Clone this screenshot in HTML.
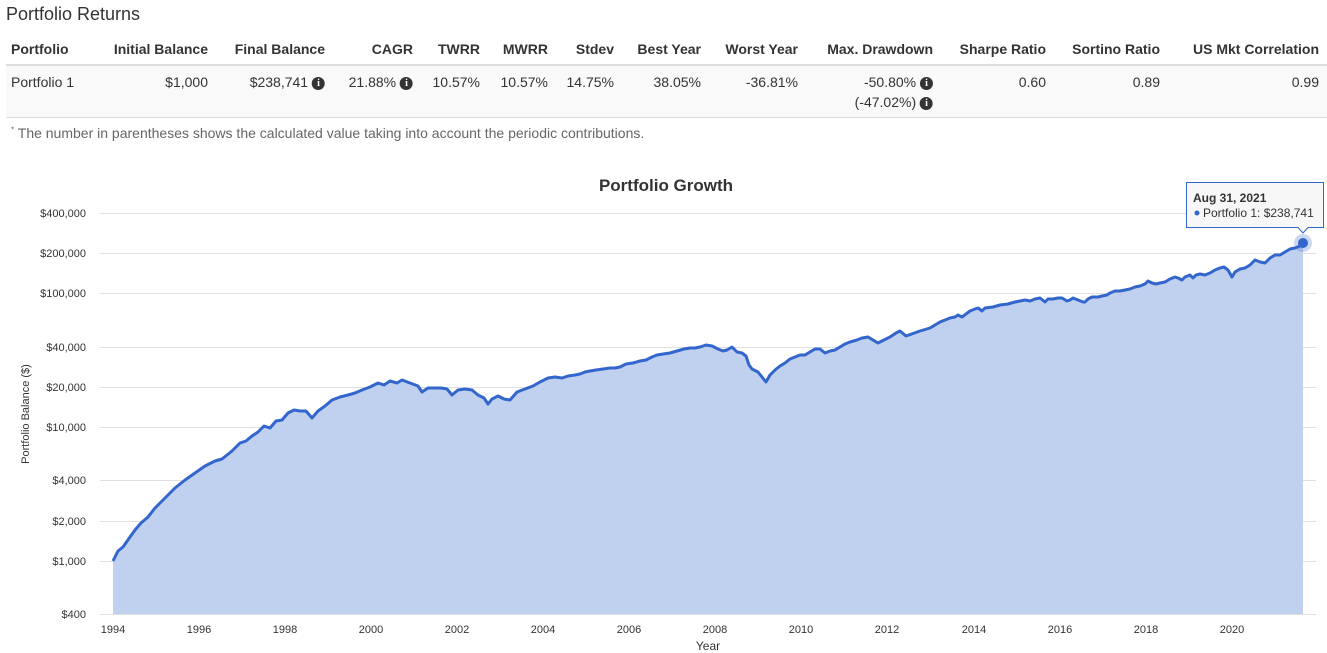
<!DOCTYPE html>
<html><head><meta charset="utf-8"><style>
body{margin:0;width:1327px;height:653px;background:#fff;font-family:"Liberation Sans",Arial,sans-serif;color:#333;position:relative;overflow:hidden}
.a{position:absolute;white-space:nowrap}
.h{font-weight:bold;font-size:14px;top:41px}
.d{font-size:14px;top:74px}
.r{transform:translateX(-100%)}
.i{display:inline-block;width:13px;height:13px;border-radius:50%;background:#333;color:#fff;font-size:10px;font-weight:bold;text-align:center;line-height:13px;vertical-align:1px;font-family:"Liberation Serif",serif}
</style></head><body>
<div class="a" style="left:6px;top:4px;font-size:18px">Portfolio Returns</div>
<div class="a" style="left:6px;top:64px;width:1321px;height:2px;background:#ddd"></div>
<div class="a" style="left:6px;top:66px;width:1321px;height:51px;background:#f9f9f9;border-bottom:1px solid #ddd"></div>
<div class="a h" style="left:11px">Portfolio</div>
<div class="a h r" style="left:208px">Initial Balance</div>
<div class="a h r" style="left:325px">Final Balance</div>
<div class="a h r" style="left:413px">CAGR</div>
<div class="a h r" style="left:480px">TWRR</div>
<div class="a h r" style="left:548px">MWRR</div>
<div class="a h r" style="left:614px">Stdev</div>
<div class="a h r" style="left:701px">Best Year</div>
<div class="a h r" style="left:798px">Worst Year</div>
<div class="a h r" style="left:933px">Max. Drawdown</div>
<div class="a h r" style="left:1046px">Sharpe Ratio</div>
<div class="a h r" style="left:1160px">Sortino Ratio</div>
<div class="a h r" style="left:1319px">US Mkt Correlation</div>
<div class="a d" style="left:11px">Portfolio 1</div>
<div class="a d r" style="left:208px">$1,000</div>
<div class="a d r" style="left:325px">$238,741 <span class="i">i</span></div>
<div class="a d r" style="left:413px">21.88% <span class="i">i</span></div>
<div class="a d r" style="left:480px">10.57%</div>
<div class="a d r" style="left:548px">10.57%</div>
<div class="a d r" style="left:614px">14.75%</div>
<div class="a d r" style="left:701px">38.05%</div>
<div class="a d r" style="left:798px">-36.81%</div>
<div class="a d r" style="left:933px">-50.80% <span class="i">i</span></div>
<div class="a d r" style="left:933px;top:94px">(-47.02%) <span class="i">i</span></div>
<div class="a d r" style="left:1046px">0.60</div>
<div class="a d r" style="left:1160px">0.89</div>
<div class="a d r" style="left:1319px">0.99</div>
<div class="a" style="left:11px;top:125px;font-size:14px;color:#666"><sup style="font-size:8px">*</sup> The number in parentheses shows the calculated value taking into account the periodic contributions.</div>
<svg class="a" style="left:0;top:0" width="1327" height="653" font-family="Liberation Sans,Arial,sans-serif">
<text x="666" y="191" text-anchor="middle" font-size="17" font-weight="bold" fill="#333">Portfolio Growth</text>
<g stroke="#e0e0e0" stroke-width="1">
<line x1="100" x2="1316" y1="213.5" y2="213.5"/><line x1="100" x2="1316" y1="253.5" y2="253.5"/><line x1="100" x2="1316" y1="293.5" y2="293.5"/><line x1="100" x2="1316" y1="347.5" y2="347.5"/><line x1="100" x2="1316" y1="387.5" y2="387.5"/><line x1="100" x2="1316" y1="427.5" y2="427.5"/><line x1="100" x2="1316" y1="480.5" y2="480.5"/><line x1="100" x2="1316" y1="521.5" y2="521.5"/><line x1="100" x2="1316" y1="561.5" y2="561.5"/><line x1="100" x2="1316" y1="614.5" y2="614.5"/>
</g>
<g font-size="11" fill="#333" text-anchor="end">
<text x="86" y="217">$400,000</text><text x="86" y="257">$200,000</text><text x="86" y="297">$100,000</text><text x="86" y="351">$40,000</text><text x="86" y="391">$20,000</text><text x="86" y="431">$10,000</text><text x="86" y="484">$4,000</text><text x="86" y="525">$2,000</text><text x="86" y="565">$1,000</text><text x="86" y="618">$400</text>
</g>
<text transform="translate(29,414) rotate(-90)" text-anchor="middle" font-size="11" fill="#333">Portfolio Balance ($)</text>
<g font-size="11" fill="#333" text-anchor="middle">
<text x="113" y="633">1994</text><text x="199" y="633">1996</text><text x="285" y="633">1998</text><text x="371" y="633">2000</text><text x="457" y="633">2002</text><text x="543" y="633">2004</text><text x="629" y="633">2006</text><text x="715" y="633">2008</text><text x="801" y="633">2010</text><text x="887" y="633">2012</text><text x="974" y="633">2014</text><text x="1060" y="633">2016</text><text x="1146" y="633">2018</text><text x="1232" y="633">2020</text>
</g>
<text x="708" y="650" text-anchor="middle" font-size="12" fill="#333">Year</text>
<defs><polyline id="p" points="113,561 118,551 123,547 130,537 135,530 141,523 148,517 155,508 165,498 175,488 185,480 195,473 205,466 215,461 222,459 232,451 240,443 246,441 252,436 258,432 264,426 270,428 276,421 282,420 288,413 294,410 300,411 306,411 312,418 318,411 325,406 332,400 340,397 348,395 355,393 362,390 370,387 378,383 384,385 390,381 397,383 402,380 410,383 418,386 422,392 428,388 435,388 441,388 447,389 452,395 458,390 465,389 472,390 478,395 484,398 488,404 492,399 498,396 504,399 510,400 517,392 525,389 533,386 540,382 548,378 555,377 562,378 568,376 575,375 580,374 585,372 590,371 596,370 603,369 610,368 615,368 620,367 626,364 633,363 640,361 646,360 652,357 657,355 663,354 670,353 677,351 684,349 690,348 695,348 700,347 706,345 712,346 718,349 723,351 727,350 732,347 737,352 742,353 746,356 749,365 752,369 758,372 766,382 770,375 775,370 780,366 785,363 790,359 795,357 800,355 805,355 810,352 815,349 820,349 825,353 830,351 835,350 840,347 845,344 850,342 857,340 862,338 868,337 873,340 878,343 880,342 884,340 890,337 896,333 900,331 906,336 920,331 930,328 940,322 950,318 955,317 958,315 962,317 970,311 975,309 978,308 982,311 985,308 993,307 1000,305 1008,304 1015,302 1020,301 1025,300 1030,301 1035,299 1040,298 1045,302 1048,299 1053,299 1058,298 1062,298 1067,301 1070,300 1073,298 1078,300 1083,302 1085,302 1088,299 1092,297 1098,297 1102,296 1107,295 1110,293 1115,291 1120,291 1125,290 1130,289 1135,287 1140,286 1145,284 1148,281 1152,283 1156,284 1160,283 1165,282 1170,279 1175,277 1178,278 1182,280 1185,277 1190,275 1193,278 1196,275 1200,274 1205,275 1210,273 1215,270 1220,268 1224,267 1228,270 1232,277 1235,272 1240,269 1245,268 1250,265 1255,260 1260,262 1265,263 1270,258 1275,255 1280,255 1285,252 1290,249 1295,248 1300,246 1303,243"/></defs>
<polygon fill="#c0d1ef" points="113,614 113,561 118,551 123,547 130,537 135,530 141,523 148,517 155,508 165,498 175,488 185,480 195,473 205,466 215,461 222,459 232,451 240,443 246,441 252,436 258,432 264,426 270,428 276,421 282,420 288,413 294,410 300,411 306,411 312,418 318,411 325,406 332,400 340,397 348,395 355,393 362,390 370,387 378,383 384,385 390,381 397,383 402,380 410,383 418,386 422,392 428,388 435,388 441,388 447,389 452,395 458,390 465,389 472,390 478,395 484,398 488,404 492,399 498,396 504,399 510,400 517,392 525,389 533,386 540,382 548,378 555,377 562,378 568,376 575,375 580,374 585,372 590,371 596,370 603,369 610,368 615,368 620,367 626,364 633,363 640,361 646,360 652,357 657,355 663,354 670,353 677,351 684,349 690,348 695,348 700,347 706,345 712,346 718,349 723,351 727,350 732,347 737,352 742,353 746,356 749,365 752,369 758,372 766,382 770,375 775,370 780,366 785,363 790,359 795,357 800,355 805,355 810,352 815,349 820,349 825,353 830,351 835,350 840,347 845,344 850,342 857,340 862,338 868,337 873,340 878,343 880,342 884,340 890,337 896,333 900,331 906,336 920,331 930,328 940,322 950,318 955,317 958,315 962,317 970,311 975,309 978,308 982,311 985,308 993,307 1000,305 1008,304 1015,302 1020,301 1025,300 1030,301 1035,299 1040,298 1045,302 1048,299 1053,299 1058,298 1062,298 1067,301 1070,300 1073,298 1078,300 1083,302 1085,302 1088,299 1092,297 1098,297 1102,296 1107,295 1110,293 1115,291 1120,291 1125,290 1130,289 1135,287 1140,286 1145,284 1148,281 1152,283 1156,284 1160,283 1165,282 1170,279 1175,277 1178,278 1182,280 1185,277 1190,275 1193,278 1196,275 1200,274 1205,275 1210,273 1215,270 1220,268 1224,267 1228,270 1232,277 1235,272 1240,269 1245,268 1250,265 1255,260 1260,262 1265,263 1270,258 1275,255 1280,255 1285,252 1290,249 1295,248 1300,246 1303,243 1303,614"/>
<use href="#p" fill="none" stroke="#3366cc" stroke-width="3" stroke-linejoin="round"/>
<circle cx="1303" cy="243" r="9" fill="#3366cc" opacity="0.25"/>
<circle cx="1303" cy="243" r="5" fill="#3366cc"/>
<path d="M1186.5,182.5 H1323.5 V227.5 H1308 L1303,233 L1298,227.5 H1186.5 Z" fill="#f7f7f7" stroke="#3366cc" stroke-width="1"/>
<text x="1193" y="202" font-size="12" font-weight="bold" fill="#333">Aug 31, 2021</text>
<circle cx="1197" cy="213" r="2.5" fill="#3366cc"/>
<text x="1203" y="217" font-size="12" fill="#333">Portfolio 1: $238,741</text>
</svg>
</body></html>
